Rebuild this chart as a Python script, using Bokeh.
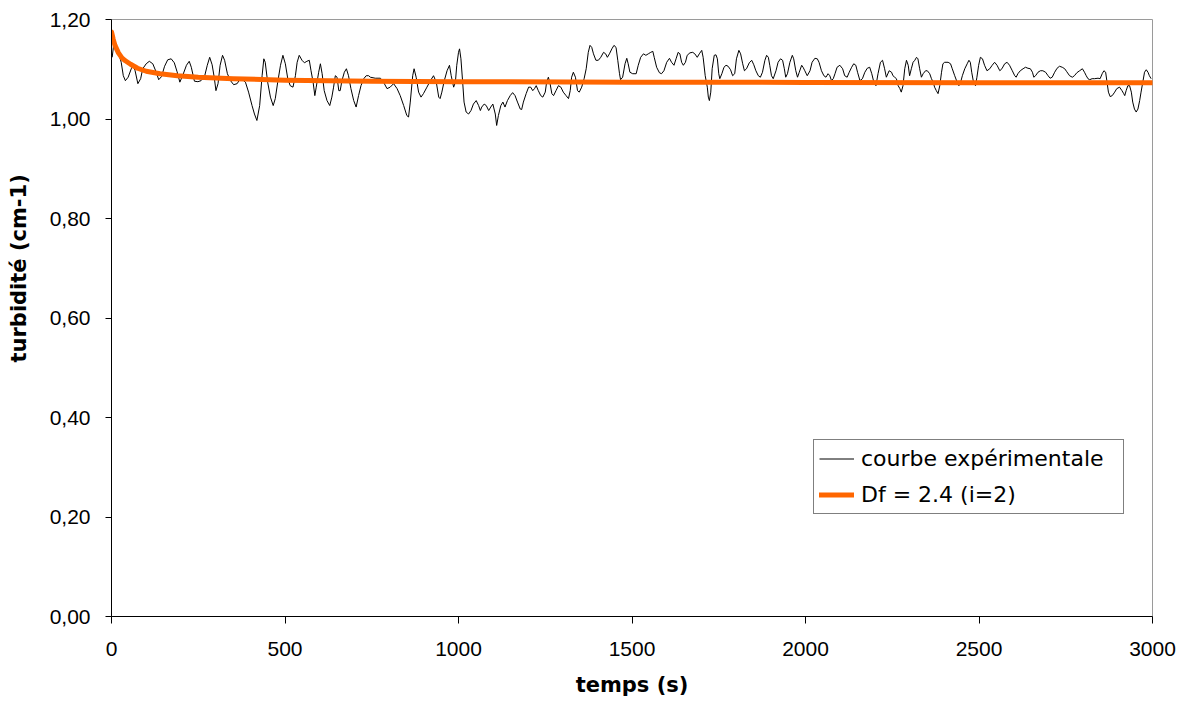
import math
from bokeh.plotting import figure
from bokeh.models import Range1d, FixedTicker, Legend, LegendItem, Title, LinearAxis
from bokeh.embed import file_html
from bokeh.resources import INLINE

exp_t = [2, 7, 14, 21, 28, 34, 40, 48, 57, 62, 68, 76, 84, 90, 100, 109, 119, 129, 136, 144,
         153, 162, 172, 181, 189, 197, 206, 216, 224, 230, 239, 249, 258, 268, 276, 283, 290, 296, 301, 307,
         313, 320, 326, 334, 343, 352, 362, 372, 386, 395, 405, 412, 419, 427, 434, 439, 443, 450, 458, 466,
         472, 479, 487, 494, 501, 508, 515, 523, 530, 535, 541, 549, 556, 563, 570, 575, 581, 586, 590, 597,
         602, 607, 613, 621, 629, 635, 640, 645, 650, 655, 659, 664, 671, 677, 683, 690, 698, 705, 712, 719,
         727, 734, 741, 746, 760, 775, 784, 794, 803, 813, 823, 832, 842, 851, 856, 861, 868, 872, 878, 885,
         892, 899, 909, 919, 928, 936, 943, 947, 952, 959, 967, 974, 979, 986, 991, 995, 1000, 1003, 1007, 1012,
         1016, 1022, 1029, 1036, 1043, 1051, 1058, 1063, 1067, 1074, 1080, 1087, 1093, 1099, 1106, 1110, 1115, 1122, 1128, 1134,
         1141, 1149, 1156, 1163, 1170, 1178, 1182, 1187, 1195, 1202, 1208, 1214, 1219, 1224, 1230, 1237, 1243, 1250, 1254, 1259,
         1264, 1269, 1274, 1281, 1288, 1295, 1302, 1310, 1317, 1322, 1326, 1331, 1337, 1343, 1348, 1355, 1362, 1368, 1374, 1379,
         1384, 1389, 1396, 1403, 1410, 1418, 1424, 1429, 1435, 1442, 1448, 1454, 1459, 1464, 1467, 1473, 1480, 1485, 1489, 1494,
         1502, 1512, 1518, 1525, 1533, 1540, 1547, 1554, 1560, 1564, 1571, 1579, 1585, 1592, 1600, 1608, 1614, 1621, 1627, 1633,
         1638, 1643, 1648, 1654, 1659, 1667, 1675, 1681, 1688, 1694, 1701, 1705, 1711, 1717, 1720, 1723, 1727, 1731, 1737, 1742,
         1746, 1750, 1753, 1759, 1765, 1771, 1777, 1784, 1790, 1796, 1801, 1808, 1813, 1819, 1824, 1830, 1838, 1845, 1851, 1857,
         1864, 1870, 1876, 1883, 1888, 1893, 1897, 1902, 1907, 1915, 1921, 1928, 1934, 1939, 1943, 1948, 1955, 1962, 1966, 1972,
         1977, 1982, 1989, 1993, 1998, 2005, 2013, 2019, 2027, 2034, 2039, 2046, 2053, 2059, 2065, 2070, 2075, 2080, 2085, 2091,
         2099, 2107, 2113, 2120, 2126, 2133, 2139, 2145, 2150, 2157, 2164, 2171, 2178, 2185, 2191, 2197, 2203, 2209, 2216, 2222,
         2228, 2233, 2241, 2248, 2252, 2257, 2262, 2267, 2272, 2276, 2281, 2286, 2291, 2296, 2300, 2305, 2310, 2315, 2320, 2324,
         2329, 2334, 2339, 2346, 2351, 2358, 2363, 2368, 2372, 2377, 2382, 2387, 2392, 2396, 2401, 2411, 2418, 2423, 2430, 2437,
         2442, 2446, 2452, 2459, 2466, 2471, 2475, 2479, 2485, 2490, 2494, 2499, 2504, 2510, 2516, 2523, 2531, 2538, 2545, 2552,
         2560, 2566, 2574, 2581, 2588, 2596, 2603, 2607, 2612, 2619, 2627, 2634, 2641, 2648, 2654, 2658, 2663, 2670, 2677, 2684,
         2692, 2699, 2705, 2711, 2718, 2725, 2732, 2740, 2747, 2753, 2761, 2769, 2775, 2782, 2790, 2798, 2804, 2809, 2814, 2819,
         2826, 2833, 2843, 2849, 2855, 2860, 2865, 2869, 2873, 2878, 2884, 2891, 2897, 2905, 2912, 2917, 2920, 2924, 2929, 2934,
         2939, 2943, 2948, 2953, 2958, 2963, 2967, 2972, 2977, 2982, 2987, 2991, 2996]
exp_v = [1.124, 1.154, 1.144, 1.131, 1.114, 1.087, 1.077, 1.084, 1.101, 1.108, 1.097, 1.071, 1.081, 1.101, 1.111, 1.116, 1.111, 1.094, 1.079, 1.085,
         1.106, 1.119, 1.121, 1.113, 1.095, 1.074, 1.089, 1.108, 1.116, 1.104, 1.076, 1.075, 1.077, 1.085, 1.108, 1.124, 1.109, 1.084, 1.057, 1.071,
         1.108, 1.128, 1.118, 1.091, 1.077, 1.069, 1.071, 1.082, 1.074, 1.054, 1.027, 1.010, 0.997, 1.027, 1.087, 1.121, 1.114, 1.074, 1.044, 1.027,
         1.041, 1.074, 1.108, 1.128, 1.111, 1.081, 1.067, 1.064, 1.087, 1.114, 1.128, 1.118, 1.113, 1.116, 1.118, 1.097, 1.074, 1.047, 1.064, 1.094,
         1.111, 1.091, 1.057, 1.037, 1.027, 1.044, 1.064, 1.087, 1.084, 1.057, 1.057, 1.077, 1.094, 1.101, 1.087, 1.061, 1.037, 1.024, 1.047, 1.067,
         1.081, 1.087, 1.087, 1.084, 1.082, 1.082, 1.074, 1.061, 1.064, 1.071, 1.061, 1.047, 1.027, 1.007, 1.004, 1.034, 1.087, 1.101, 1.084, 1.054,
         1.044, 1.051, 1.064, 1.077, 1.087, 1.074, 1.044, 1.041, 1.054, 1.077, 1.097, 1.108, 1.087, 1.064, 1.074, 1.108, 1.134, 1.141, 1.121, 1.074,
         1.034, 1.014, 1.010, 1.017, 1.030, 1.037, 1.027, 1.017, 1.024, 1.030, 1.027, 1.017, 1.024, 1.030, 1.010, 0.987, 1.007, 1.027, 1.034, 1.024,
         1.037, 1.047, 1.053, 1.047, 1.034, 1.020, 1.019, 1.034, 1.051, 1.064, 1.064, 1.057, 1.061, 1.067, 1.057, 1.047, 1.044, 1.054, 1.074, 1.084,
         1.071, 1.051, 1.047, 1.057, 1.067, 1.064, 1.054, 1.047, 1.041, 1.057, 1.084, 1.094, 1.084, 1.057, 1.054, 1.064, 1.081, 1.101, 1.134, 1.148,
         1.144, 1.131, 1.118, 1.118, 1.124, 1.134, 1.131, 1.124, 1.131, 1.141, 1.148, 1.144, 1.118, 1.091, 1.079, 1.084, 1.111, 1.122, 1.111, 1.094,
         1.091, 1.091, 1.108, 1.124, 1.131, 1.128, 1.131, 1.134, 1.136, 1.124, 1.104, 1.093, 1.091, 1.097, 1.114, 1.122, 1.114, 1.108, 1.121, 1.134,
         1.131, 1.114, 1.108, 1.114, 1.128, 1.133, 1.134, 1.131, 1.124, 1.131, 1.138, 1.124, 1.087, 1.064, 1.044, 1.037, 1.054, 1.101, 1.128, 1.129,
         1.121, 1.091, 1.081, 1.091, 1.104, 1.108, 1.106, 1.099, 1.087, 1.091, 1.121, 1.138, 1.131, 1.111, 1.097, 1.101, 1.113, 1.118, 1.109, 1.097,
         1.087, 1.084, 1.094, 1.118, 1.128, 1.124, 1.108, 1.087, 1.081, 1.097, 1.114, 1.121, 1.118, 1.101, 1.084, 1.091, 1.114, 1.128, 1.121, 1.097,
         1.084, 1.094, 1.108, 1.104, 1.097, 1.087, 1.097, 1.114, 1.122, 1.121, 1.114, 1.097, 1.087, 1.084, 1.091, 1.087, 1.077, 1.081, 1.091, 1.104,
         1.108, 1.101, 1.087, 1.084, 1.094, 1.104, 1.111, 1.108, 1.094, 1.077, 1.081, 1.094, 1.102, 1.104, 1.091, 1.074, 1.067, 1.091, 1.114, 1.118,
         1.101, 1.084, 1.097, 1.094, 1.087, 1.084, 1.081, 1.067, 1.061, 1.054, 1.067, 1.101, 1.118, 1.108, 1.087, 1.101, 1.114, 1.118, 1.124, 1.121,
         1.101, 1.084, 1.091, 1.097, 1.097, 1.091, 1.081, 1.074, 1.064, 1.057, 1.051, 1.067, 1.094, 1.111, 1.114, 1.114, 1.111, 1.101, 1.087, 1.074,
         1.067, 1.071, 1.087, 1.101, 1.111, 1.118, 1.114, 1.094, 1.071, 1.067, 1.084, 1.108, 1.124, 1.121, 1.108, 1.097, 1.101, 1.108, 1.114, 1.108,
         1.097, 1.101, 1.111, 1.114, 1.108, 1.097, 1.087, 1.084, 1.091, 1.097, 1.101, 1.104, 1.102, 1.101, 1.094, 1.084, 1.087, 1.094, 1.097, 1.097,
         1.094, 1.087, 1.082, 1.084, 1.094, 1.102, 1.106, 1.104, 1.101, 1.095, 1.087, 1.084, 1.087, 1.093, 1.097, 1.101, 1.094, 1.087, 1.081, 1.079,
         1.081, 1.081, 1.082, 1.081, 1.091, 1.097, 1.094, 1.074, 1.054, 1.045, 1.047, 1.054, 1.061, 1.064, 1.057, 1.051, 1.047, 1.057, 1.067, 1.067,
         1.054, 1.034, 1.020, 1.014, 1.020, 1.037, 1.054, 1.074, 1.094, 1.099, 1.094, 1.087, 1.081]

# fitted model curve Df = 2.4 (i=2)
fit_t = [0, 5, 10, 20, 30, 40, 55, 75, 100, 140, 190, 250, 350, 500, 750, 1000, 1500, 2000, 2500, 3000]
fit_v = [1.175, 1.160, 1.148, 1.133, 1.123, 1.117, 1.110, 1.102, 1.096, 1.091, 1.087, 1.084, 1.081,
         1.078, 1.076, 1.075, 1.074, 1.0735, 1.073, 1.073]

x_ticks = [0, 500, 1000, 1500, 2000, 2500, 3000]
y_ticks = [0.0, 0.2, 0.4, 0.6, 0.8, 1.0, 1.2]
y_tick_labels = ["0,00", "0,20", "0,40", "0,60", "0,80", "1,00", "1,20"]
x_title = "temps (s)"
y_title = "turbidité (cm-1)"
series_names = ["courbe expérimentale", "Df = 2.4 (i=2)"]

p = figure(width=1186, height=702, output_backend="svg", toolbar_location=None,
           x_range=Range1d(0, 3000), y_range=Range1d(0, 1.2),
           min_border_left=111, min_border_right=34, min_border_top=19, min_border_bottom=86)
p.background_fill_color = "white"
p.border_fill_color = "white"
p.outline_line_color = "#9a9a9a"
p.outline_line_width = 1
p.grid.visible = False

for ax in (p.xaxis[0], p.yaxis[0]):
    ax.axis_line_color = "black"
    ax.axis_line_width = 1
    ax.major_tick_line_color = "black"
    ax.major_tick_in = 0
    ax.minor_tick_line_color = None
    ax.major_label_text_font = "Liberation Sans"
    ax.major_label_text_font_size = "21px"
    ax.major_label_text_color = "black"

p.xaxis.ticker = FixedTicker(ticks=x_ticks)
p.xaxis.major_tick_out = 7
p.xaxis.major_label_standoff = 18
p.xaxis.axis_label = x_title
p.xaxis.axis_label_text_font = "DejaVu Sans"
p.xaxis.axis_label_text_font_style = "bold"
p.xaxis.axis_label_text_font_size = "21px"
p.xaxis.axis_label_text_color = "black"
p.xaxis.axis_label_standoff = 14

p.yaxis.ticker = FixedTicker(ticks=y_ticks)
p.yaxis.major_tick_out = 6
p.yaxis.major_label_standoff = 15
p.yaxis.major_label_overrides = dict(zip(y_ticks, y_tick_labels))

r1 = p.line(exp_t, exp_v, line_color="black", line_width=1, line_join="round")
r2 = p.line(fit_t, fit_v, line_color="#FF6600", line_width=5, line_join="round", line_cap="round")

legend = Legend(items=[LegendItem(label=series_names[0], renderers=[r1]),
                       LegendItem(label=series_names[1], renderers=[r2])],
                location=(702, 102))
legend.label_text_font = "DejaVu Sans"
legend.label_text_font_size = "22px"
legend.label_text_color = "black"
legend.glyph_width = 35
legend.glyph_height = 27
legend.label_height = 27
legend.label_width = 257
legend.spacing = 9
legend.padding = 5
legend.margin = 0
legend.label_standoff = 7
legend.border_line_color = "black"
legend.border_line_width = 1
legend.background_fill_color = "white"
legend.background_fill_alpha = 1
p.add_layout(legend)

# invisible spacer axis (one hidden tick) pushing the y title outward
spacer = LinearAxis(ticker=FixedTicker(ticks=[0.6]), axis_line_color=None,
                    major_tick_line_color=None, minor_tick_line_color=None,
                    major_tick_out=13, major_tick_in=0, major_label_standoff=0,
                    major_label_text_font_size="1px", major_label_text_color=None)
p.add_layout(spacer, "left")

ytitle = Title(text=y_title, align="left", offset=254, standoff=6,
               text_font="DejaVu Sans", text_font_style="bold", text_font_size="21px",
               text_color="black")
p.add_layout(ytitle, "left")

open("out.html", "w").write(file_html(p, INLINE))
